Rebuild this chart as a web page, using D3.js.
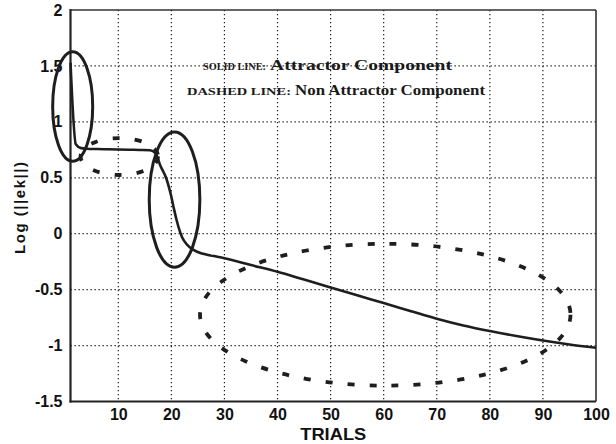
<!DOCTYPE html>
<html>
<head>
<meta charset="utf-8">
<script src="https://cdn.jsdelivr.net/npm/d3@7"></script>
<style>
  html, body { margin: 0; padding: 0; background: #fff; }
  svg { display: block; }
  .tick text { font-family: "Liberation Sans", Arial, sans-serif; font-weight: bold; font-size: 16px; fill: #111; }
</style>
</head>
<body>
<svg id="chart" width="616" height="444"></svg>
<script>
// Error norm (log scale) per learning trial
const trials = [1, 2, 3, 4, 6, 8, 10, 12, 14, 16, 17, 18, 19, 20, 20.5, 21, 22, 23, 24, 26, 28, 30, 35, 40, 45, 50, 55, 60, 65, 70, 75, 80, 85, 90, 95, 100];
const logErr = [1.53, 0.80, 0.765, 0.76, 0.757, 0.755, 0.753, 0.751, 0.749, 0.746, 0.72, 0.60, 0.50, 0.33, 0.22, 0.12, -0.03, -0.10, -0.14, -0.18, -0.20, -0.22, -0.28, -0.34, -0.41, -0.48, -0.55, -0.62, -0.69, -0.76, -0.82, -0.87, -0.915, -0.955, -0.99, -1.02];

// Axis ticks
const xTicks = [10, 20, 30, 40, 50, 60, 70, 80, 90, 100];
const yTicks = [-1.5, -1, -0.5, 0, 0.5, 1, 1.5, 2];

// Highlight ellipses (data units): attractor regions (solid) and non-attractor regions (dashed)
const ellipseCx    = [1.41, 20.6, 10.2, 60.3];
const ellipseCy    = [1.137, 0.305, 0.69, -0.724];
const ellipseRx    = [3.77, 4.77, 7.3, 34.9];
const ellipseRy    = [0.49, 0.604, 0.165, 0.634];
const ellipseKind  = ["solid", "solid", "dashed", "dashed"];

// Legend lines
const legendLabels = ["SOLID LINE:", "DASHED  LINE:"];
const legendTexts  = ["Attractor Component", "Non Attractor Component"];

const svg = d3.select("#chart");
const x = d3.scaleLinear().domain([1, 100]).range([70.5, 596]);
const y = d3.scaleLinear().domain([-1.5, 2]).range([401.5, 10]);

// Dotted grid
const grid = svg.append("g").attr("stroke", "#1a1a1a").attr("stroke-width", 1.2).attr("stroke-dasharray", "1.3,2.7");
grid.selectAll("line.vx").data(xTicks.filter(d => d < 100)).join("line")
  .attr("x1", d => x(d)).attr("x2", d => x(d)).attr("y1", y(2)).attr("y2", y(-1.5));
grid.selectAll("line.hy").data(yTicks.filter(d => d > -1.5 && d < 2)).join("line")
  .attr("x1", x(1)).attr("x2", x(100)).attr("y1", d => y(d)).attr("y2", d => y(d));

// Axes
const xAxis = svg.append("g").attr("transform", `translate(0,${y(-1.5)})`)
  .call(d3.axisBottom(x).tickValues(xTicks).tickSize(0).tickPadding(7.5).tickFormat(d3.format("d")));
const yAxis = svg.append("g").attr("transform", `translate(${x(1)},0)`)
  .call(d3.axisLeft(y).tickValues(yTicks).tickSize(0).tickPadding(8).tickFormat(d => String(d)));
xAxis.select(".domain").remove();
yAxis.select(".domain").remove();

// Plot box
svg.append("line").attr("x1", x(1)).attr("x2", x(100)).attr("y1", y(2)).attr("y2", y(2)).attr("stroke", "#333").attr("stroke-width", 1.6);
svg.append("line").attr("x1", x(100)).attr("x2", x(100)).attr("y1", y(2)).attr("y2", y(-1.5)).attr("stroke", "#333").attr("stroke-width", 1.6);
svg.append("line").attr("x1", x(1)).attr("x2", x(1)).attr("y1", y(2) - 1).attr("y2", y(-1.5) + 1).attr("stroke", "#222").attr("stroke-width", 2.2);
svg.append("line").attr("x1", x(1) - 1).attr("x2", x(100)).attr("y1", y(-1.5)).attr("y2", y(-1.5)).attr("stroke", "#222").attr("stroke-width", 2.2);

// Error curve
const line = d3.line().x((d, i) => x(trials[i])).y(d => y(d)).curve(d3.curveMonotoneX);
svg.append("path").datum(logErr).attr("d", line)
  .attr("fill", "none").attr("stroke", "#1e1e1e").attr("stroke-width", 2.6).attr("stroke-linejoin", "round");

// Ellipses
svg.append("g").selectAll("ellipse").data(ellipseCx).join("ellipse")
  .attr("cx", d => x(d))
  .attr("cy", (d, i) => y(ellipseCy[i]))
  .attr("rx", (d, i) => x(d + ellipseRx[i]) - x(d))
  .attr("ry", (d, i) => y(ellipseCy[i] - ellipseRy[i]) - y(ellipseCy[i]))
  .attr("fill", "none")
  .attr("stroke", "#1e1e1e")
  .attr("stroke-width", (d, i) => ellipseKind[i] === "solid" ? 3 : 3.8)
  .attr("stroke-dasharray", (d, i) => ellipseKind[i] === "solid" ? null : "7,15");

// Legend text (serif, small caps label followed by description)
const legendRows = [
  { lx: 203, ll: 63, tx: 270, tl: 182, by: 69.5 },
  { lx: 187, ll: 104, tx: 295, tl: 190, by: 95 }
];
legendRows.forEach((r, i) => {
  svg.append("text").attr("x", r.lx).attr("y", r.by)
    .attr("font-family", "'Liberation Serif', 'Times New Roman', serif").attr("font-weight", "bold")
    .attr("font-size", 11).attr("fill", "#1a1a1a")
    .attr("textLength", r.ll).attr("lengthAdjust", "spacingAndGlyphs")
    .text(legendLabels[i]);
  svg.append("text").attr("x", r.tx).attr("y", r.by)
    .attr("font-family", "'Liberation Serif', 'Times New Roman', serif").attr("font-weight", "bold")
    .attr("font-size", 15).attr("fill", "#1a1a1a")
    .attr("textLength", r.tl).attr("lengthAdjust", "spacingAndGlyphs")
    .text(legendTexts[i]);
});

// Axis titles
svg.append("text").attr("x", (x(1) + x(100)) / 2).attr("y", 439.5)
  .attr("text-anchor", "middle")
  .attr("font-family", "'Liberation Sans', Arial, sans-serif").attr("font-weight", "bold")
  .attr("font-size", 16.5).attr("fill", "#111")
  .attr("textLength", 66).attr("lengthAdjust", "spacingAndGlyphs")
  .text("TRIALS");
svg.append("text").attr("transform", `translate(25,${208}) rotate(-90)`)
  .attr("text-anchor", "middle")
  .attr("font-family", "'Liberation Sans', Arial, sans-serif").attr("font-weight", "bold")
  .attr("font-size", 15).attr("fill", "#111")
  .attr("textLength", 92).attr("lengthAdjust", "spacing")
  .text("Log (||ek||)");
</script>
</body>
</html>
